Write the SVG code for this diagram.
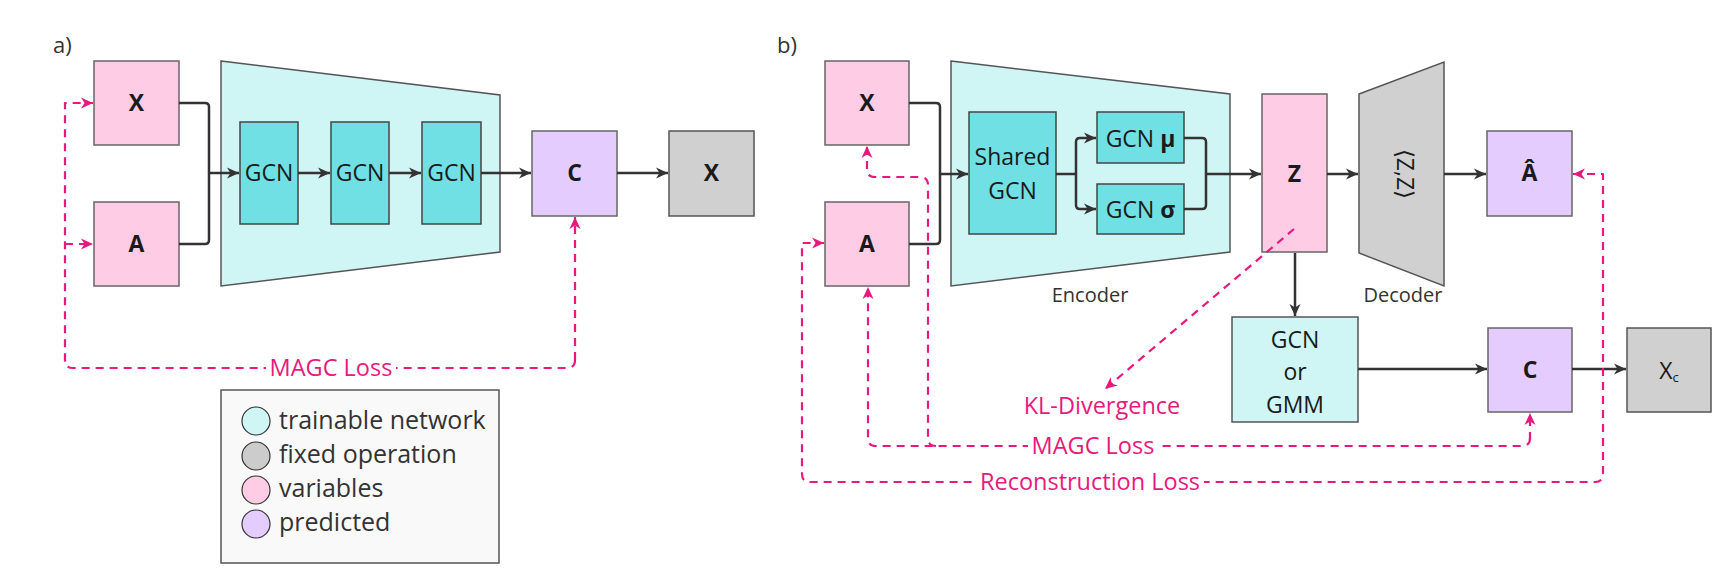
<svg xmlns="http://www.w3.org/2000/svg" width="1727" height="578" viewBox="0 0 1727 578">
<style>
text{font-family:"Open Sans","Liberation Sans",sans-serif;}
.lbl{font-size:23px;fill:#1a1a1a;text-anchor:middle;}
.b{font-weight:bold;}
.pink{fill:#FFCCE6;stroke:#666;stroke-width:1.5;}
.purp{fill:#E5CCFF;stroke:#666;stroke-width:1.5;}
.gray{fill:#D0D0D0;stroke:#555;stroke-width:1.5;}
.lcyan{fill:#D0F5F5;stroke:#555;stroke-width:1.5;}
.teal{fill:#70E0E4;stroke:#444;stroke-width:1.5;}
.con{fill:none;stroke:#333;stroke-width:2.5;stroke-linejoin:round;}
.loss{fill:none;stroke:#E8197D;stroke-width:2.2;stroke-dasharray:8 6;stroke-linejoin:round;}
.ltxt{font-size:23.5px;fill:#E8197D;text-anchor:middle;}
.cap{font-size:20px;fill:#333;text-anchor:middle;}
.leg{font-size:25px;fill:#333;}
</style>
<defs>
<marker id="ah" markerUnits="userSpaceOnUse" markerWidth="14" markerHeight="14" refX="13" refY="7" orient="auto-start-reverse">
<path d="M1,1.5 L13,7 L1,12.5 L4.5,7 z" fill="#333"/>
</marker>
<marker id="ap" markerUnits="userSpaceOnUse" markerWidth="14" markerHeight="14" refX="13" refY="7" orient="auto-start-reverse">
<path d="M1,1.5 L13,7 L1,12.5 L4.5,7 z" fill="#E8197D"/>
</marker>
</defs>

<text x="53" y="53" font-size="22" fill="#333">a)</text>
<text x="777" y="53" font-size="22" fill="#333">b)</text>

<!-- ===== (a) ===== -->
<g id="a-encoder"><polygon class="lcyan" points="221,61 500,95 500,252 221,286"/></g>
<g id="a-X"><rect class="pink" x="94" y="61" width="85" height="84"/><text class="lbl b" x="136.5" y="111">X</text></g>
<g id="a-A"><rect class="pink" x="94" y="202" width="85" height="84"/><text class="lbl b" x="136.5" y="252">A</text></g>
<g id="a-gcn1"><rect class="teal" x="240" y="122" width="58" height="102"/><text class="lbl" x="269" y="181">GCN</text></g>
<g id="a-gcn2"><rect class="teal" x="331" y="122" width="58" height="102"/><text class="lbl" x="360" y="181">GCN</text></g>
<g id="a-gcn3"><rect class="teal" x="422" y="122" width="59" height="102"/><text class="lbl" x="451.5" y="181">GCN</text></g>
<g id="a-C"><rect class="purp" x="532" y="131" width="85" height="85"/><text class="lbl b" x="574.5" y="181">C</text></g>
<g id="a-Xout"><rect class="gray" x="669" y="131" width="85" height="85"/><text class="lbl b" x="711.5" y="181">X</text></g>

<!-- ===== (b) ===== -->
<g id="b-encoder"><polygon class="lcyan" points="951,61 1230,94 1230,252 951,286"/><text class="cap" x="1090" y="302">Encoder</text></g>
<g id="b-X"><rect class="pink" x="825" y="61" width="84" height="84"/><text class="lbl b" x="867" y="111">X</text></g>
<g id="b-A"><rect class="pink" x="825" y="202" width="84" height="84"/><text class="lbl b" x="867" y="252">A</text></g>
<g id="b-shared"><rect class="teal" x="969" y="112" width="87" height="122"/><text class="lbl" x="1012.5" y="165">Shared</text><text class="lbl" x="1012.5" y="199">GCN</text></g>
<g id="b-mu"><rect class="teal" x="1097" y="112" width="87" height="51"/><text class="lbl" x="1140.5" y="147">GCN <tspan class="b">μ</tspan></text></g>
<g id="b-sigma"><rect class="teal" x="1097" y="184" width="87" height="50"/><text class="lbl" x="1140.5" y="218">GCN <tspan class="b">σ</tspan></text></g>
<g id="b-Z"><rect class="pink" x="1262" y="94" width="65" height="158"/><text class="lbl b" x="1294.5" y="182">Z</text></g>
<g id="b-decoder"><polygon class="gray" points="1359,94 1444,62 1444,286 1359,253"/><text class="lbl" transform="translate(1405,174) rotate(90)" y="8">⟨Z,Z⟩</text><text class="cap" x="1403" y="302">Decoder</text></g>
<g id="b-Ahat"><rect class="purp" x="1487" y="131" width="85" height="85"/><text class="lbl b" x="1529.5" y="181">Â</text></g>
<g id="b-gmm"><rect class="lcyan" x="1232" y="317" width="126" height="105"/><text class="lbl" x="1295" y="348">GCN</text><text class="lbl" x="1295" y="380">or</text><text class="lbl" x="1295" y="413">GMM</text></g>
<g id="b-C"><rect class="purp" x="1488" y="328" width="84" height="84"/><text class="lbl b" x="1530" y="378">C</text></g>
<g id="b-Xc"><rect class="gray" x="1627" y="328" width="84" height="84"/><text class="lbl" x="1669" y="379" font-size="26">X<tspan font-size="13" dy="3">c</tspan></text></g>

<!-- legend -->
<g id="legend">
<rect x="221" y="390" width="278" height="173" fill="#F9F9F9" stroke="#555" stroke-width="1.5"/>
<circle cx="256" cy="421" r="14" fill="#D0F5F5" stroke="#333" stroke-width="1.2"/>
<circle cx="256" cy="456" r="14" fill="#CCCCCC" stroke="#333" stroke-width="1.2"/>
<circle cx="256" cy="490" r="14" fill="#FFCCE6" stroke="#333" stroke-width="1.2"/>
<circle cx="256" cy="524" r="14" fill="#E5CCFF" stroke="#333" stroke-width="1.2"/>
<text class="leg" x="279" y="429">trainable network</text>
<text class="leg" x="279" y="463">fixed operation</text>
<text class="leg" x="279" y="497">variables</text>
<text class="leg" x="279" y="531">predicted</text>
</g>

<!-- connectors -->
<g id="connectors">
<!-- (a) -->
<path class="con" d="M179,103 L205,103 Q209,103 209,107 L209,173" />
<path class="con" d="M179,244 L205,244 Q209,244 209,240 L209,173 L239,173" marker-end="url(#ah)"/>
<path class="con" d="M298,173 L330,173" marker-end="url(#ah)"/>
<path class="con" d="M389,173 L421,173" marker-end="url(#ah)"/>
<path class="con" d="M481,173 L531,173" marker-end="url(#ah)"/>
<path class="con" d="M617,173 L668,173" marker-end="url(#ah)"/>
<path class="loss" d="M575,360 Q575,368 567,368 L73,368 Q65,368 65,360 L65,103 L93,103" marker-end="url(#ap)"/>
<path class="loss" d="M65,244 L93,244" marker-end="url(#ap)"/>
<path class="loss" d="M575,360 L575,217" marker-end="url(#ap)"/>
<rect x="266" y="354" width="130" height="28" fill="#fff"/>
<text class="ltxt" x="331" y="376">MAGC Loss</text>

<!-- (b) -->
<path class="con" d="M909,103 L936,103 Q940,103 940,107 L940,174"/>
<path class="con" d="M909,244 L936,244 Q940,244 940,240 L940,174 L968,174" marker-end="url(#ah)"/>
<path class="con" d="M1056,174 L1076,174"/>
<path class="con" d="M1076,174 L1076,142 Q1076,138 1080,138 L1096,138" marker-end="url(#ah)"/>
<path class="con" d="M1076,174 L1076,205 Q1076,209 1080,209 L1096,209" marker-end="url(#ah)"/>
<path class="con" d="M1184,138 L1202,138 Q1206,138 1206,142 L1206,174"/>
<path class="con" d="M1184,209 L1202,209 Q1206,209 1206,205 L1206,174 L1261,174" marker-end="url(#ah)"/>
<path class="con" d="M1327,174 L1358,174" marker-end="url(#ah)"/>
<path class="con" d="M1444,174 L1486,174" marker-end="url(#ah)"/>
<path class="con" d="M1295,253 L1295,316" marker-end="url(#ah)"/>
<path class="con" d="M1358,369 L1487,369" marker-end="url(#ah)"/>
<path class="con" d="M1572,369 L1626,369" marker-end="url(#ah)"/>

<path class="loss" d="M1294,229 L1105,389" marker-end="url(#ap)"/>
<path class="loss" d="M1530,438 Q1530,446 1522,446 L876,446 Q868,446 868,438 L868,287" marker-end="url(#ap)"/>
<path class="loss" d="M936,446 Q928,446 928,438 L928,185 Q928,177 920,177 L875,177 Q867,177 867,169 L867,146" marker-end="url(#ap)"/>
<path class="loss" d="M1530,440 L1530,413" marker-end="url(#ap)"/>
<path class="loss" d="M1573,174 L1603,174 L1603,474 Q1603,482 1595,482 L810,482 Q802,482 802,474 L802,243 L824,243" marker-start="url(#ap)" marker-end="url(#ap)"/>
<rect x="1028" y="432" width="130" height="28" fill="#fff"/>
<text class="ltxt" x="1093" y="454">MAGC Loss</text>
<rect x="976" y="468" width="228" height="28" fill="#fff"/>
<text class="ltxt" x="1090" y="490">Reconstruction Loss</text>
<text class="ltxt" x="1102" y="414">KL-Divergence</text>
</g>
</svg>
